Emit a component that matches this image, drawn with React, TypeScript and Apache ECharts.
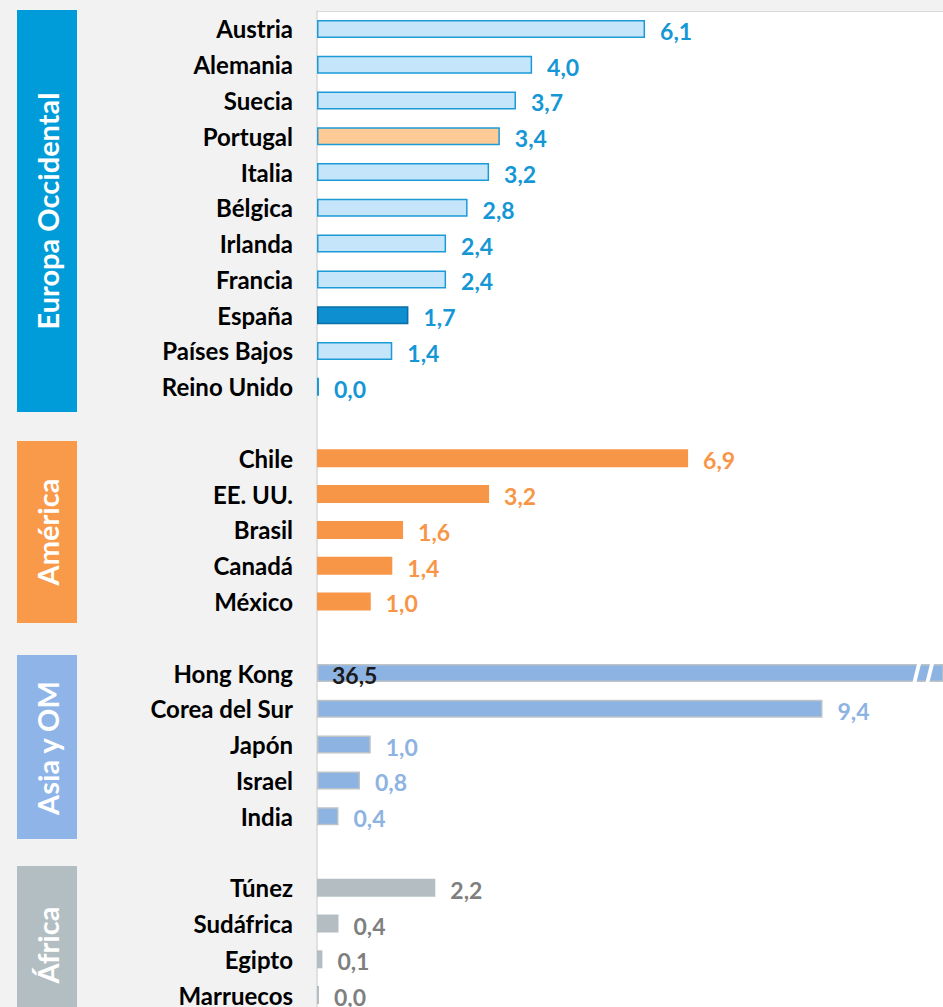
import React, { useEffect, useRef } from 'react';
import * as echarts from 'echarts';

const europeCountries = ['Austria', 'Alemania', 'Suecia', 'Portugal', 'Italia', 'Bélgica', 'Irlanda', 'Francia', 'España', 'Países Bajos', 'Reino Unido'];
const europeValues = [6.1, 4.0, 3.7, 3.4, 3.2, 2.8, 2.4, 2.4, 1.7, 1.4, 0.0];
const americaCountries = ['Chile', 'EE. UU.', 'Brasil', 'Canadá', 'México'];
const americaValues = [6.9, 3.2, 1.6, 1.4, 1.0];
const asiaCountries = ['Hong Kong', 'Corea del Sur', 'Japón', 'Israel', 'India'];
const asiaValues = [36.5, 9.4, 1.0, 0.8, 0.4];
const africaCountries = ['Túnez', 'Sudáfrica', 'Egipto', 'Marruecos'];
const africaValues = [2.2, 0.4, 0.1, 0.0];
const regionNames = ['Europa Occidental', 'América', 'Asia y OM', 'África'];
const axisMax = 11.64;

const FONT = 'Lato';

export default function App() {
  const ref = useRef<HTMLDivElement>(null);
  useEffect(() => {
    document.body.style.margin = '0';
    document.body.style.overflow = 'hidden';
    document.documentElement.style.overflow = 'hidden';
    const chart = echarts.init(ref.current!, null, { renderer: 'svg' });

    const categories: string[] = [];
    const data: any[] = [];
    const gapKeys: string[] = [];
    const addGap = (k: string) => {
      categories.push(k);
      gapKeys.push(k);
      data.push('-');
    };
    const addRegion = (names: string[], values: number[], mk: (n: string) => any) => {
      names.forEach((n, i) => {
        categories.push(n);
        data.push({ value: values[i], ...mk(n) });
      });
    };

    addRegion(europeCountries, europeValues, (n) => ({
      itemStyle: {
        color: n === 'Portugal' ? '#FECB97' : n === 'España' ? '#0E8FD0' : '#C5E6FA',
        borderColor: n === 'España' ? '#0B6EA6' : '#1C9AD6',
        borderWidth: 1.5,
      },
      label: { color: '#1597D5' },
    }));
    addGap(' ');
    addRegion(americaCountries, americaValues, () => ({
      itemStyle: { color: '#F79646' },
      label: { color: '#F79646' },
    }));
    addGap('  ');
    addRegion(asiaCountries, asiaValues, (n) => ({
      itemStyle: { color: '#8DB3E2', borderColor: '#BDC3C7', borderWidth: 1.5 },
      label:
        n === 'Hong Kong'
          ? { color: '#1A1A1A', position: 'insideLeft', distance: 15 }
          : { color: '#8DB3E2' },
    }));
    addGap('   ');
    addRegion(africaCountries, africaValues, () => ({
      itemStyle: { color: '#B4BEC2' },
      label: { color: '#7F7F7F' },
    }));

    const bandText = (text: string, x: number, y: number) => ({
      type: 'text',
      x,
      y,
      rotation: Math.PI / 2,
      z: 10,
      style: {
        text,
        fill: '#FFFFFF',
        font: `bold 29px ${FONT}`,
        align: 'center',
        verticalAlign: 'middle',
        textAlign: 'center',
        textVerticalAlign: 'middle',
      },
    });

    chart.setOption({
      animation: false,
      backgroundColor: '#F2F2F2',
      grid: {
        left: 317,
        right: 0,
        top: 11,
        height: 1002,
        outerBoundsMode: 'none',
        show: true,
        backgroundColor: '#FFFFFF',
        borderWidth: 0,
      },
      xAxis: {
        type: 'value',
        min: 0,
        max: axisMax,
        position: 'top',
        axisLine: { show: true, lineStyle: { color: '#D9D9D9', width: 1 } },
        axisTick: { show: false },
        axisLabel: { show: false },
        splitLine: { show: false },
      },
      yAxis: {
        type: 'category',
        data: categories,
        inverse: true,
        axisLine: { show: true, lineStyle: { color: '#D9D9D9', width: 1.5 } },
        axisTick: { show: false },
        axisLabel: {
          interval: 0,
          margin: 24,
          color: '#000000',
          fontFamily: FONT,
          fontWeight: 'bold',
          fontSize: 24,
          formatter: (v: string) => (gapKeys.includes(v) ? '' : v),
        },
      },
      series: [
        {
          type: 'bar',
          data,
          barWidth: 18,
          barMinHeight: 2,
          clip: true,
          label: {
            show: true,
            position: 'right',
            distance: 15,
            offset: [0, 2],
            fontFamily: FONT,
            fontWeight: 'bold',
            fontSize: 23,
            formatter: (p: any) => Number(p.value).toFixed(1).replace('.', ','),
          },
        },
      ],
      graphic: [
        { type: 'rect', shape: { x: 17, y: 10, width: 60, height: 402 }, style: { fill: '#009CDA' } },
        { type: 'rect', shape: { x: 17, y: 441, width: 60, height: 182 }, style: { fill: '#F89A4A' } },
        { type: 'rect', shape: { x: 17, y: 655, width: 60, height: 184 }, style: { fill: '#8EB4E8' } },
        { type: 'rect', shape: { x: 17, y: 866, width: 60, height: 160 }, style: { fill: '#B3BEC2' } },
        bandText(regionNames[0], 47, 211),
        bandText(regionNames[1], 47, 532),
        bandText(regionNames[2], 47, 748),
        bandText(regionNames[3], 47, 945),
        {
          type: 'polygon',
          z: 100,
          shape: { points: [[911, 688], [915, 688], [922, 660], [918, 660]] },
          style: { fill: '#FFFFFF' },
        },
        {
          type: 'polygon',
          z: 100,
          shape: { points: [[924, 688], [928, 688], [935, 660], [931, 660]] },
          style: { fill: '#FFFFFF' },
        },
      ],
    });

    return () => chart.dispose();
  }, []);
  return <div ref={ref} style={{ width: 943, height: 1020 }} />;
}
